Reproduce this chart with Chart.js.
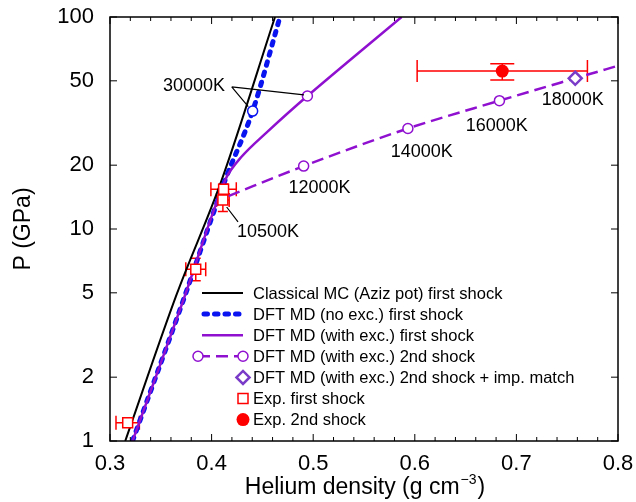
<!DOCTYPE html>
<html lang="en">
<head>
<meta charset="UTF-8">
<title>Helium shock Hugoniot</title>
<style>
  html, body { margin: 0; padding: 0; background: #fff; }
  canvas { display: block; }
</style>
<script src="https://cdn.jsdelivr.net/npm/chart.js"></script>
</head>
<body>
<canvas id="chart" width="636" height="502"></canvas>
<script>
// ---- data (density g/cm3, pressure GPa) ----
const xTicks = [0.3, 0.4, 0.5, 0.6, 0.7, 0.8];
const yTicks = [1, 2, 5, 10, 20, 50, 100];

// Classical MC (Aziz pot) first shock
const mcX = [0.3150, 0.3655, 0.4099, 0.4624];
const mcP = [1.0, 4.9, 17.0, 100];

// DFT MD (no exc.) first shock
const noExcX = [0.3222, 0.3722, 0.4133, 0.4404, 0.4673];
const noExcP = [1.0, 4.62, 17.0, 36.0, 100];

// DFT MD (with exc.) first shock
const exc1X = [0.3222, 0.3722, 0.4133, 0.4290, 0.4540, 0.4943, 0.5870];
const exc1P = [1.0, 4.62, 17.0, 21.8, 28.5, 42.4, 100];

// DFT MD (with exc.) 2nd shock
const exc2X = [0.4165, 0.4906, 0.5932, 0.6833, 0.7579, 0.8000];
const exc2P = [14.3, 19.8, 29.8, 40.3, 51.4, 58.9];

// 2nd shock + impedance match
const impX = [0.7579];
const impP = [51.4];

// Exp. first shock
const exp1X = [0.4118, 0.4111, 0.3844, 0.3174];
const exp1P = [15.4, 13.7, 6.46, 1.22];
const exp1XLo = [0.3993, 0.4049, 0.3746, 0.3059];
const exp1XHi = [0.4243, 0.4173, 0.3942, 0.3289];
const exp1PLo = [14.6, 12.1, 5.70, 1.16];
const exp1PHi = [16.3, 15.3, 7.28, 1.28];

// Exp. 2nd shock
const exp2X = [0.6861];
const exp2P = [55.6];
const exp2XLo = [0.6023];
const exp2XHi = [0.7699];
const exp2PLo = [50.4];
const exp2PHi = [60.2];

// temperature annotations
const tempText = ['30000K', '10500K', '12000K', '14000K', '16000K', '18000K'];
const tempX = [0.3827, 0.4555, 0.5063, 0.6068, 0.6806, 0.7554];
const tempP = [47.7, 9.82, 15.8, 23.4, 31.0, 41.0];
const leadFromX = [0.4198, 0.4198, 0.4148];
const leadFromP = [46.8, 46.8, 12.7];
const leadToX = [0.4361, 0.4909, 0.4260];
const leadToP = [37.8, 42.9, 10.8];

const FONT = '"Liberation Sans", Arial, Helvetica, sans-serif';
const PURPLE = '#9010d0';
const BLUE = '#0a14f0';
const DIAMOND = '#7a3cc8';

function pts(xs, ys) {
    return xs.map((x, i) => ({ x: x, y: ys[i] }));
}

// markers only at the temperature points
const noExcRadius = noExcX.map((x, i) => i === 3 ? 5 : 0);
const exc1Radius = exc1X.map((x, i) => i === 5 ? 5 : 0);
const exc2Radius = exc2X.map((x, i) => (i >= 1 && i <= 3) ? 5 : 0);

const extras = {
    id: 'extras',
    beforeDatasetsDraw(chart) {
        const ctx = chart.ctx;
        const xs = chart.scales.x, ys = chart.scales.y;
        ctx.save();
        ctx.strokeStyle = 'red';
        ctx.lineWidth = 1.5;
        function bars(X, P, xlo, xhi, plo, phi, capH, capV) {
            X.forEach((x, i) => {
                const px = xs.getPixelForValue(x), py = ys.getPixelForValue(P[i]);
                const x1 = xs.getPixelForValue(xlo[i]), x2 = xs.getPixelForValue(xhi[i]);
                const y1 = ys.getPixelForValue(plo[i]), y2 = ys.getPixelForValue(phi[i]);
                ctx.beginPath();
                ctx.moveTo(x1, py); ctx.lineTo(x2, py);
                ctx.moveTo(x1, py - capH); ctx.lineTo(x1, py + capH);
                ctx.moveTo(x2, py - capH); ctx.lineTo(x2, py + capH);
                ctx.moveTo(px, y1); ctx.lineTo(px, y2);
                ctx.moveTo(px - capV, y1); ctx.lineTo(px + capV, y1);
                ctx.moveTo(px - capV, y2); ctx.lineTo(px + capV, y2);
                ctx.stroke();
            });
        }
        bars(exp1X, exp1P, exp1XLo, exp1XHi, exp1PLo, exp1PHi, 7, 5);
        bars(exp2X, exp2P, exp2XLo, exp2XHi, exp2PLo, exp2PHi, 11, 12);
        ctx.restore();
    },
    afterDraw(chart) {
        const ctx = chart.ctx;
        const a = chart.chartArea;
        const xs = chart.scales.x, ys = chart.scales.y;
        ctx.save();

        // frame
        ctx.strokeStyle = '#000';
        ctx.lineWidth = 1.5;
        ctx.strokeRect(a.left, a.top, a.right - a.left, a.bottom - a.top);

        // inward ticks
        ctx.lineWidth = 1;
        ctx.beginPath();
        for (let v = 0.3; v <= 0.8001; v += 0.02) {
            const major = Math.abs(v * 10 - Math.round(v * 10)) < 1e-6;
            const len = major ? 7 : 4;
            const px = xs.getPixelForValue(v);
            ctx.moveTo(px, a.bottom); ctx.lineTo(px, a.bottom - len);
            ctx.moveTo(px, a.top); ctx.lineTo(px, a.top + len);
        }
        yTicks.forEach(v => {
            const py = ys.getPixelForValue(v);
            ctx.moveTo(a.left, py); ctx.lineTo(a.left + 7, py);
            ctx.moveTo(a.right, py); ctx.lineTo(a.right - 7, py);
        });
        ctx.stroke();

        // leader lines
        ctx.lineWidth = 1.2;
        ctx.beginPath();
        leadFromX.forEach((x, i) => {
            ctx.moveTo(xs.getPixelForValue(x), ys.getPixelForValue(leadFromP[i]));
            ctx.lineTo(xs.getPixelForValue(leadToX[i]), ys.getPixelForValue(leadToP[i]));
        });
        ctx.stroke();

        // temperature labels
        ctx.fillStyle = '#000';
        ctx.font = '18px ' + FONT;
        ctx.textAlign = 'center';
        ctx.textBaseline = 'middle';
        tempText.forEach((t, i) => {
            ctx.fillText(t, xs.getPixelForValue(tempX[i]), ys.getPixelForValue(tempP[i]) + 1);
        });

        // legend
        const lx1 = a.left + 92, lx2 = a.left + 133, tx = a.left + 143;
        const rowY = i => a.top + 276 + i * 21.1;
        const rows = [
            'Classical MC (Aziz pot) first shock',
            'DFT MD (no exc.) first shock',
            'DFT MD (with exc.) first shock',
            'DFT MD (with exc.) 2nd shock',
            'DFT MD (with exc.) 2nd shock + imp. match',
            'Exp. first shock',
            'Exp. 2nd shock'
        ];
        function circle(x, y, r, stroke, fill, w) {
            ctx.beginPath();
            ctx.arc(x, y, r, 0, Math.PI * 2);
            ctx.fillStyle = fill; ctx.fill();
            if (stroke) { ctx.strokeStyle = stroke; ctx.lineWidth = w; ctx.stroke(); }
        }
        let y = rowY(0);
        ctx.strokeStyle = '#000'; ctx.lineWidth = 2; ctx.setLineDash([]);
        ctx.beginPath(); ctx.moveTo(lx1, y); ctx.lineTo(lx2, y); ctx.stroke();
        y = rowY(1);
        ctx.strokeStyle = BLUE; ctx.lineWidth = 5; ctx.lineCap = 'round'; ctx.setLineDash([3.5, 7]);
        ctx.beginPath(); ctx.moveTo(lx1 + 2, y); ctx.lineTo(lx2 - 2, y); ctx.stroke();
        ctx.lineCap = 'butt'; ctx.setLineDash([]);
        y = rowY(2);
        ctx.strokeStyle = PURPLE; ctx.lineWidth = 2.5;
        ctx.beginPath(); ctx.moveTo(lx1, y); ctx.lineTo(lx2, y); ctx.stroke();
        y = rowY(3);
        ctx.setLineDash([12, 6]);
        ctx.beginPath(); ctx.moveTo(lx1 - 4, y); ctx.lineTo(lx2, y); ctx.stroke();
        ctx.setLineDash([]);
        circle(lx1 - 4, y, 5, PURPLE, '#fff', 1.5);
        circle(lx2, y, 5, PURPLE, '#fff', 1.5);
        y = rowY(4);
        ctx.strokeStyle = DIAMOND; ctx.lineWidth = 2.5;
        ctx.beginPath();
        ctx.moveTo(lx2 - 6.5, y); ctx.lineTo(lx2, y - 6.5); ctx.lineTo(lx2 + 6.5, y); ctx.lineTo(lx2, y + 6.5);
        ctx.closePath(); ctx.fillStyle = '#fff'; ctx.fill(); ctx.stroke();
        y = rowY(5);
        ctx.strokeStyle = 'red'; ctx.lineWidth = 1.5;
        ctx.fillStyle = '#fff';
        ctx.fillRect(lx2 - 5, y - 5, 10, 10); ctx.strokeRect(lx2 - 5, y - 5, 10, 10);
        y = rowY(6);
        circle(lx2, y, 6.5, null, 'red', 0);

        ctx.fillStyle = '#000';
        ctx.font = '16.5px ' + FONT;
        ctx.textAlign = 'left';
        rows.forEach((t, i) => ctx.fillText(t, tx, rowY(i) + 1));

        // axis titles
        ctx.font = '23px ' + FONT;
        ctx.textAlign = 'left';
        const main = 'Helium density (g cm', sup = '\u22123', close = ')';
        const w1 = ctx.measureText(main).width, w3 = ctx.measureText(close).width;
        ctx.font = '14px ' + FONT;
        const w2 = ctx.measureText(sup).width;
        let sx = (a.left + a.right) / 2 - (w1 + w2 + w3) / 2;
        const by = 488;
        ctx.font = '23px ' + FONT;
        ctx.fillText(main, sx, by);
        ctx.font = '14px ' + FONT;
        ctx.fillText(sup, sx + w1 + 1, by - 8);
        ctx.font = '23px ' + FONT;
        ctx.fillText(close, sx + w1 + w2 + 2, by);

        ctx.save();
        ctx.translate(24, (a.top + a.bottom) / 2);
        ctx.rotate(-Math.PI / 2);
        ctx.textAlign = 'center';
        ctx.fillText('P (GPa)', 0, 0);
        ctx.restore();

        ctx.restore();
    }
};

new Chart(document.getElementById('chart'), {
    type: 'scatter',
    data: {
        datasets: [
            {
                label: 'Exp. 2nd shock',
                data: pts(exp2X, exp2P),
                pointStyle: 'circle', pointRadius: 6.5,
                backgroundColor: 'red', borderColor: 'red', borderWidth: 0
            },
            {
                label: 'Exp. first shock',
                data: pts(exp1X, exp1P),
                pointStyle: 'rect', pointRadius: 7,
                backgroundColor: '#fff', borderColor: 'red', borderWidth: 1.5
            },
            {
                label: 'DFT MD (with exc.) 2nd shock + imp. match',
                data: pts(impX, impP),
                pointStyle: 'rectRot', pointRadius: 6.5,
                backgroundColor: '#fff', borderColor: DIAMOND, borderWidth: 2.5
            },
            {
                label: 'DFT MD (with exc.) 2nd shock',
                data: pts(exc2X, exc2P),
                showLine: true, borderColor: PURPLE, borderWidth: 2.5, borderDash: [12, 6],
                cubicInterpolationMode: 'monotone',
                pointRadius: exc2Radius, pointBackgroundColor: '#fff',
                pointBorderColor: PURPLE, pointBorderWidth: 1.5
            },
            {
                label: 'DFT MD (with exc.) first shock',
                data: pts(exc1X, exc1P),
                showLine: true, borderColor: PURPLE, borderWidth: 2.5,
                tension: 0.35,
                pointRadius: exc1Radius, pointBackgroundColor: '#fff',
                pointBorderColor: PURPLE, pointBorderWidth: 1.5
            },
            {
                label: 'DFT MD (no exc.) first shock',
                data: pts(noExcX, noExcP),
                showLine: true, borderColor: BLUE, borderWidth: 5, borderDash: [3.5, 7],
                borderCapStyle: 'round',
                cubicInterpolationMode: 'monotone',
                pointRadius: noExcRadius, pointBackgroundColor: '#fff',
                pointBorderColor: BLUE, pointBorderWidth: 1.5
            },
            {
                label: 'Classical MC (Aziz pot) first shock',
                data: pts(mcX, mcP),
                showLine: true, borderColor: '#000', borderWidth: 2,
                cubicInterpolationMode: 'monotone',
                pointRadius: 0
            }
        ]
    },
    options: {
        responsive: false,
        animation: false,
        events: [],
        layout: { padding: { left: 0, right: 18, top: 17, bottom: 0 } },
        plugins: { legend: { display: false }, tooltip: { enabled: false } },
        scales: {
            x: {
                type: 'linear', min: 0.3, max: 0.8,
                afterBuildTicks: s => { s.ticks = xTicks.map(v => ({ value: v })); },
                afterFit: s => { s.height = 61; s.paddingLeft = 0; s.paddingRight = 0; },
                grid: { display: false, drawTicks: false },
                border: { display: false },
                ticks: {
                    color: '#000', padding: 10, maxRotation: 0,
                    font: { size: 22, family: FONT },
                    callback: v => v.toFixed(1)
                }
            },
            y: {
                type: 'logarithmic', min: 1, max: 100,
                afterBuildTicks: s => { s.ticks = yTicks.map(v => ({ value: v })); },
                afterFit: s => { s.width = 110; s.paddingTop = 0; s.paddingBottom = 0; },
                grid: { display: false, drawTicks: false },
                border: { display: false },
                ticks: {
                    color: '#000', padding: 16,
                    font: { size: 22, family: FONT },
                    callback: v => String(v)
                }
            }
        }
    },
    plugins: [extras]
});
</script>
</body>
</html>
